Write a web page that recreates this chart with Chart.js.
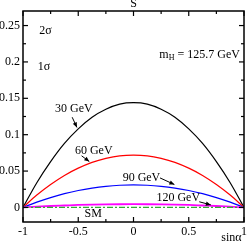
<!DOCTYPE html>
<html>
<head>
<meta charset="utf-8">
<script src="https://cdn.jsdelivr.net/npm/chart.js@4/dist/chart.umd.min.js"></script>
<style>
  html, body { margin: 0; padding: 0; background: #fff; }
  #wrap { width: 250px; height: 244px; }
</style>
</head>
<body>
<div id="wrap"><canvas id="c" width="250" height="244"></canvas></div>
<script>
// ---- data ----
const SIN_ALPHA = [-1, -0.875, -0.75, -0.625, -0.5, -0.375, -0.25, -0.125, 0, 0.125, 0.25, 0.375, 0.5, 0.625, 0.75, 0.875, 1];
const S_30GEV  = [0, 0.034, 0.063, 0.088, 0.108, 0.124, 0.135, 0.142, 0.144, 0.142, 0.135, 0.124, 0.108, 0.088, 0.063, 0.034, 0];
const S_60GEV  = [0, 0.017, 0.0315, 0.044, 0.054, 0.062, 0.0675, 0.071, 0.072, 0.071, 0.0675, 0.062, 0.054, 0.044, 0.0315, 0.017, 0];
const S_90GEV  = [0, 0.0073, 0.0136, 0.0189, 0.0233, 0.0266, 0.029, 0.0305, 0.031, 0.0305, 0.029, 0.0266, 0.0233, 0.0189, 0.0136, 0.0073, 0];
const S_120GEV = [0, 0.001, 0.002, 0.0027, 0.0034, 0.0039, 0.0042, 0.0044, 0.0045, 0.0044, 0.0042, 0.0039, 0.0034, 0.0027, 0.002, 0.001, 0];
const SM_X = [-1, 1];
const SM_S = [0, 0];

const X_TICKS = [-1, -0.5, 0, 0.5, 1];
const X_TICK_LABELS = ['-1', '-0.5', '0', '0.5', '1'];
const X_MINOR = [-0.75, -0.25, 0.25, 0.75];
const Y_TICKS = [0, 0.05, 0.1, 0.15, 0.2, 0.25];
const Y_TICK_LABELS = ['0', '0.05', '0.1', '0.15', '0.2', '0.25'];
const Y_MINOR = [0.025, 0.075, 0.125, 0.175, 0.225];

const CURVE_LABELS = ['30 GeV', '60 GeV', '90 GeV', '120 GeV', 'SM'];

const FONT = '"Liberation Serif", "Times New Roman", serif';

function pts(xs, ys) { return xs.map((x, i) => ({ x: x, y: ys[i] })); }

const decor = {
  id: 'decor',
  afterDraw(chart) {
    const ctx = chart.ctx;
    const a = chart.chartArea;
    const xs = chart.scales.x, ys = chart.scales.y;
    const X = v => xs.getPixelForValue(v);
    const Y = v => ys.getPixelForValue(v);
    ctx.save();
    // frame
    ctx.strokeStyle = '#000';
    ctx.lineWidth = 1.5;
    ctx.strokeRect(a.left, a.top, a.right - a.left, a.bottom - a.top);
    // inward ticks
    ctx.lineWidth = 1.2;
    const tick = (x1, y1, x2, y2) => { ctx.beginPath(); ctx.moveTo(x1, y1); ctx.lineTo(x2, y2); ctx.stroke(); };
    X_TICKS.forEach(v => { const p = X(v); tick(p, a.bottom, p, a.bottom - 5); tick(p, a.top, p, a.top + 5); });
    X_MINOR.forEach(v => { const p = X(v); tick(p, a.bottom, p, a.bottom - 3); tick(p, a.top, p, a.top + 3); });
    Y_TICKS.forEach(v => { const p = Y(v); tick(a.left, p, a.left + 5, p); tick(a.right, p, a.right - 5, p); });
    Y_MINOR.forEach(v => { const p = Y(v); tick(a.left, p, a.left + 3, p); tick(a.right, p, a.right - 3, p); });

    // texts
    ctx.fillStyle = '#000';
    ctx.font = '12px ' + FONT;
    ctx.textBaseline = 'middle';
    ctx.textAlign = 'center';
    ctx.fillText(CURVE_LABELS[0], X(-0.54), Y(0.135));
    ctx.fillText(CURVE_LABELS[1], X(-0.36), Y(0.078));
    ctx.fillText(CURVE_LABELS[2], X(0.072), Y(0.041));
    ctx.fillText(CURVE_LABELS[3], X(0.405), Y(0.0135));
    ctx.fillText(CURVE_LABELS[4], X(-0.365), Y(-0.0085));
    ctx.fillText('2\u03c3', X(-0.797), Y(0.243));
    ctx.fillText('1\u03c3', X(-0.81), Y(0.193));
    // m_H label
    ctx.textAlign = 'left';
    ctx.textBaseline = 'alphabetic';
    let tx = X(0.234), ty = Y(0.206);
    ctx.fillText('m', tx, ty);
    tx += ctx.measureText('m').width;
    ctx.font = '8px ' + FONT;
    ctx.fillText('H', tx, ty + 2);
    tx += ctx.measureText('H').width;
    ctx.font = '12px ' + FONT;
    ctx.fillText(' = 125.7 GeV', tx, ty);
    // axis titles
    ctx.textAlign = 'center';
    ctx.fillText('S', X(0), a.top - 4);
    ctx.textAlign = 'left';
    ctx.fillText('sin\u03b1', X(0.795), a.bottom + 19);

    // arrows
    const arrow = (x1, y1, x2, y2) => {
      const p1 = [X(x1), Y(y1)], p2 = [X(x2), Y(y2)];
      const ang = Math.atan2(p2[1] - p1[1], p2[0] - p1[0]);
      ctx.strokeStyle = '#000';
      ctx.lineWidth = 1;
      ctx.beginPath(); ctx.moveTo(p1[0], p1[1]); ctx.lineTo(p2[0], p2[1]); ctx.stroke();
      const L = 5, W = 2.2;
      ctx.beginPath();
      ctx.moveTo(p2[0], p2[1]);
      ctx.lineTo(p2[0] - L * Math.cos(ang) + W * Math.sin(ang), p2[1] - L * Math.sin(ang) - W * Math.cos(ang));
      ctx.lineTo(p2[0] - L * Math.cos(ang) - W * Math.sin(ang), p2[1] - L * Math.sin(ang) + W * Math.cos(ang));
      ctx.closePath(); ctx.fill();
    };
    arrow(-0.555, 0.124, -0.512, 0.11);
    arrow(-0.47, 0.071, -0.40, 0.063);
    arrow(0.24, 0.0406, 0.37, 0.0315);
    arrow(0.595, 0.0078, 0.70, 0.0035);
    ctx.restore();
  }
};

new Chart(document.getElementById('c'), {
  type: 'line',
  data: {
    datasets: [
      { data: pts(SM_X, SM_S), borderColor: '#33aa33', borderWidth: 1.3, borderDash: [6, 2, 2, 2] },
      { data: pts(SIN_ALPHA, S_120GEV), borderColor: '#ff00ff', borderWidth: 1.8 },
      { data: pts(SIN_ALPHA, S_90GEV), borderColor: '#0000ff', borderWidth: 1.2 },
      { data: pts(SIN_ALPHA, S_60GEV), borderColor: '#ff0000', borderWidth: 1.2 },
      { data: pts(SIN_ALPHA, S_30GEV), borderColor: '#000000', borderWidth: 1.2 }
    ]
  },
  options: {
    responsive: false,
    animation: false,
    devicePixelRatio: 1,
    layout: { padding: { top: 11, right: 5, left: 0, bottom: 0 } },
    elements: { point: { radius: 0 }, line: { cubicInterpolationMode: 'monotone', fill: false } },
    plugins: { legend: { display: false }, tooltip: { enabled: false }, title: { display: false } },
    scales: {
      x: {
        type: 'linear', min: -1, max: 1,
        afterBuildTicks: s => { s.ticks = X_TICKS.map(v => ({ value: v })); },
        afterFit: s => { s.height = 22; },
        ticks: { color: '#000', font: { family: FONT, size: 12 }, padding: 3, maxRotation: 0,
                 callback: (v, i) => X_TICK_LABELS[i] },
        grid: { display: false, drawTicks: false },
        border: { display: false }
      },
      y: {
        type: 'linear', min: -0.02, max: 0.27,
        afterBuildTicks: s => { s.ticks = Y_TICKS.map(v => ({ value: v })); },
        afterFit: s => { s.width = 23; },
        ticks: { color: '#000', font: { family: FONT, size: 12 }, padding: 3,
                 callback: (v, i) => Y_TICK_LABELS[i] },
        grid: { display: false, drawTicks: false },
        border: { display: false }
      }
    }
  },
  plugins: [decor]
});
</script>
</body>
</html>
